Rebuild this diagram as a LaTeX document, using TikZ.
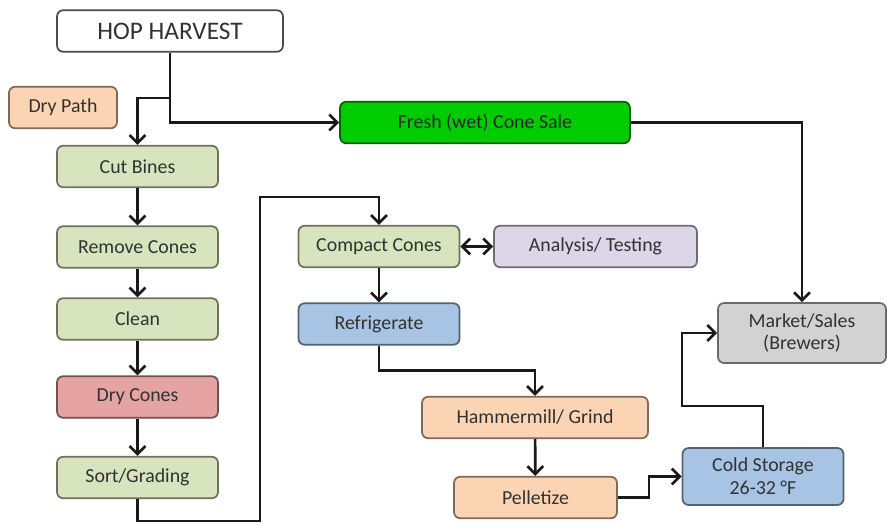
\documentclass[tikz,border=0pt]{standalone}
\usepackage{fontspec}
\setmainfont{Carlito}
\usepackage{xcolor}
\usepackage{tikz}
\usetikzlibrary{arrows.meta, positioning}
\definecolor{txt_col}{RGB}{50, 50, 50}
\definecolor{prep_col}{RGB}{215, 228, 189}
\definecolor{dry_col}{RGB}{229, 163, 163}
\definecolor{mill_col}{RGB}{251, 212, 180}
\definecolor{cold_col}{RGB}{168, 196, 228}
\definecolor{lab_col}{RGB}{221, 214, 233}
\definecolor{sale_col}{RGB}{210, 210, 210}
\definecolor{wet_col}{RGB}{0, 204, 0}

\begin{document}
\begin{tikzpicture}[x=0.02cm, y=-0.02cm,
    >={Straight Barb[length=4.5pt, width=9pt]},
    every node/.style={align=center, text=txt_col},
    stage/.style={draw=#1!50!black, fill=#1, rounded corners=3.5pt,
      line width=1pt, minimum width=3.22cm, minimum height=0.83cm,
      inner sep=2pt, font=\fontsize{11.3}{13}\selectfont},
    stage/.default=prep_col,
    flow/.style={->, line width=1.5pt, black!90}]
  \useasboundingbox (0,0) rectangle (887,525);

  % top of the chart
  \node[stage=white, draw=black!70, minimum width=4.52cm,
        font=\fontsize{14.4}{16}\selectfont] (harvest) at (170,31) {HOP HARVEST};
  \node[stage=mill_col, minimum width=2.16cm] (drypath) at (63,107.5) {Dry Path};
  \node[stage=wet_col, minimum width=5.8cm, text=black!85] (fresh) at (485,122.5)
    {Fresh (wet) Cone Sale};

  % dry path, left column
  \node[stage] (cut) at (137.5,166.5) {Cut Bines};
  \node[stage] (remove) at (137.5,247) {Remove Cones};
  \node[stage] (clean) at (137.5,319) {Clean};
  \node[stage=dry_col] (drycones) at (137.5,397) {Dry Cones};
  \node[stage] (sort) at (137.5,477.5) {Sort/Grading};

  % processing
  \node[stage] (compact) at (379,246.5) {Compact Cones};
  \node[stage=lab_col, minimum width=4.06cm] (analysis) at (595.5,246.5)
    {Analysis/ Testing};
  \node[stage=cold_col] (refrig) at (379,324) {Refrigerate};
  \node[stage=mill_col, minimum width=4.52cm] (hammer) at (535,417.5)
    {Hammermill/ Grind};
  \node[stage=mill_col, minimum width=3.26cm] (pellet) at (535.5,497.5) {Pelletize};
  \node[stage=cold_col, minimum height=1.14cm] (cold) at (763,476.5)
    {Cold Storage\\26-32 \textdegree F};
  \node[stage=sale_col, minimum width=3.36cm, minimum height=1.2cm] (market)
    at (802,333) {Market/Sales\\(Brewers)};

  % connectors
  \coordinate (split) at (170,98);
  \draw[flow] (harvest.south) |- (fresh.west);
  \draw[flow] (split) -| (cut.north);
  \draw[flow] (cut) -- (remove);
  \draw[flow] (remove) -- (clean);
  \draw[flow] (clean) -- (drycones);
  \draw[flow] (drycones) -- (sort);

  \coordinate (lowturn) at (260,521);
  \coordinate (highturn) at (260,197);
  \draw[flow] (sort.south) |- (lowturn) -- (highturn) -| (compact.north);
  \draw[flow, <->] (compact) -- (analysis);
  \draw[flow] (compact) -- (refrig);
  \draw[flow] (refrig.south) -- ++(0,25) -| (hammer.north);
  \draw[flow] (hammer) -- (pellet);
  \draw[flow] (pellet.east) -- ++(31,0) |- (cold.west);
  \draw[flow] (cold.north) -- ++(0,-41) -- ++(-81,0) |- (market.west);
  \draw[flow] (fresh.east) -| (market.north);
\end{tikzpicture}
\end{document}
